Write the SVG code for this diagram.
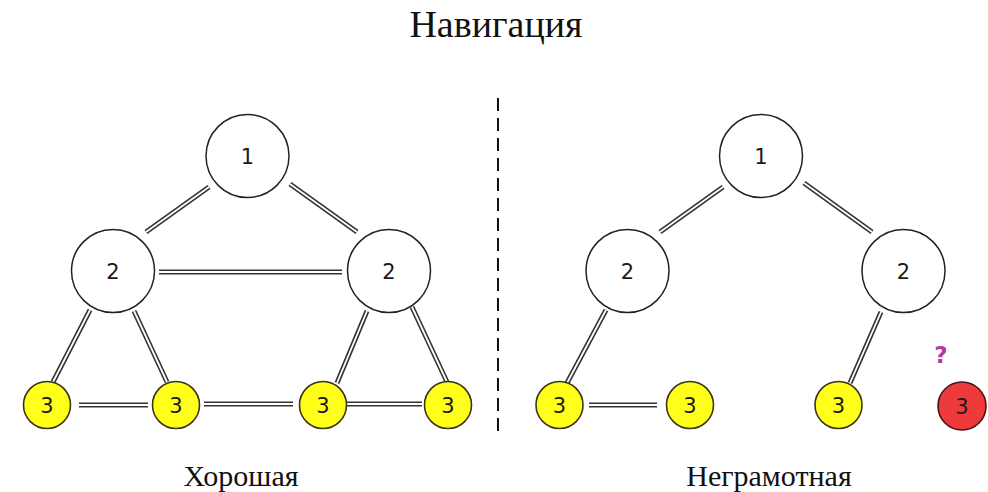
<svg xmlns="http://www.w3.org/2000/svg" width="988" height="492" viewBox="0 0 988 492">
<style>
.bg{fill:#fff}
.node{fill:#fff;stroke:#222;stroke-width:1.5}
.y{fill:#ffff1a;stroke:#3a3418;stroke-width:1.6}
.r{fill:#ee3a3a;stroke:#4a1414;stroke-width:1.6}
.num{font-family:"DejaVu Sans",Verdana,sans-serif;font-size:21px;fill:#1a1a1a;text-anchor:middle}
.lab{font-family:"Liberation Serif","Times New Roman",serif;fill:#111;text-anchor:middle}
.eo{fill:none;stroke:#333;stroke-width:5;stroke-linecap:butt}
.ei{fill:none;stroke:#fff;stroke-width:1.8;stroke-linecap:butt}
</style>
<rect class="bg" x="0" y="0" width="988" height="492"/>
<text class="lab" x="496" y="37" font-size="38">Навигация</text>
<line x1="498" y1="98" x2="498" y2="434" stroke="#111" stroke-width="2" stroke-dasharray="13 7"/>
<g id="connectors">
  <path class="eo" d="M209 187L146 232M290 184L357 232M159 272L342 272M90 310L53 382M134 311L167 382M367 311L337 383M412 307L447 382M79 405L148 405M204 404L293 404M347 404L422 404M723 187L660 232M804 183L872 232M606 310L567 383M589 405L657 405M881 312L850 383"/>
  <path class="ei" d="M209 187L146 232M290 184L357 232M159 272L342 272M90 310L53 382M134 311L167 382M367 311L337 383M412 307L447 382M79 405L148 405M204 404L293 404M347 404L422 404M723 187L660 232M804 183L872 232M606 310L567 383M589 405L657 405M881 312L850 383"/>
</g>
<g id="L1"><circle class="node" cx="247.5" cy="156" r="41.5"/><text class="num" x="247.5" y="163.5">1</text></g>
<g id="L2a"><circle class="node" cx="113" cy="271" r="41.5"/><text class="num" x="113" y="278.5">2</text></g>
<g id="L2b"><circle class="node" cx="389" cy="271" r="41.5"/><text class="num" x="389" y="278.5">2</text></g>
<g id="L3a"><circle class="y" cx="47" cy="405" r="23.5"/><text class="num" x="47" y="412.5">3</text></g>
<g id="L3b"><circle class="y" cx="176" cy="405" r="23.5"/><text class="num" x="176" y="412.5">3</text></g>
<g id="L3c"><circle class="y" cx="323" cy="405" r="23.5"/><text class="num" x="323" y="412.5">3</text></g>
<g id="L3d"><circle class="y" cx="448" cy="405" r="23.5"/><text class="num" x="448" y="412.5">3</text></g>
<g id="R1"><circle class="node" cx="761" cy="156" r="41.5"/><text class="num" x="761" y="163.5">1</text></g>
<g id="R2a"><circle class="node" cx="627.5" cy="271" r="41.5"/><text class="num" x="627.5" y="278.5">2</text></g>
<g id="R2b"><circle class="node" cx="903.5" cy="271" r="41.5"/><text class="num" x="903.5" y="278.5">2</text></g>
<g id="R3a"><circle class="y" cx="559.5" cy="405" r="23.5"/><text class="num" x="559.5" y="412.5">3</text></g>
<g id="R3b"><circle class="y" cx="690" cy="405" r="23.5"/><text class="num" x="690" y="412.5">3</text></g>
<g id="R3c"><circle class="y" cx="838.5" cy="405" r="23.5"/><text class="num" x="838.5" y="412.5">3</text></g>
<g id="R3d"><circle class="r" cx="962" cy="406" r="24"/><text class="num" x="962" y="413.5">3</text></g>
<text x="941" y="363" font-family="'DejaVu Sans',Verdana,sans-serif" font-size="23" font-weight="bold" fill="#b4399f" text-anchor="middle">?</text>
<text class="lab" x="241" y="486" font-size="30">Хорошая</text>
<text class="lab" x="769" y="486" font-size="30">Неграмотная</text>
</svg>
